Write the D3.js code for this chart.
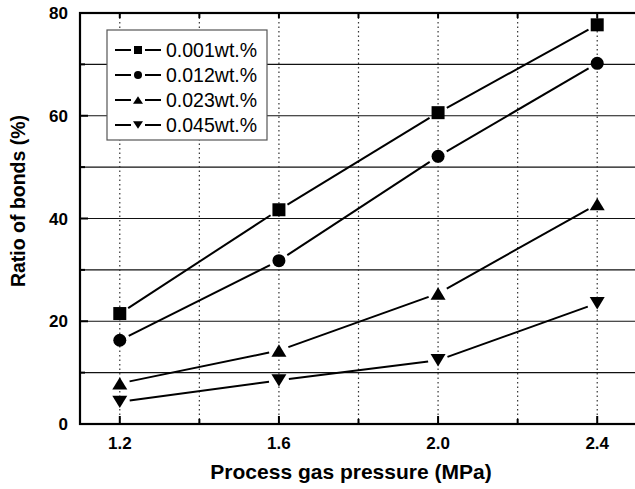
<!DOCTYPE html>
<html>
<head>
<meta charset="utf-8">
<script src="https://cdn.jsdelivr.net/npm/d3@7"></script>
<style>
  html, body { margin: 0; padding: 0; background: #fff; }
  svg { display: block; font-family: "Liberation Sans", Arial, sans-serif; }
</style>
</head>
<body>
<div id="chart"></div>
<script>
// Data
const pressures = [1.2, 1.6, 2.0, 2.4];
const seriesNames = ["0.001wt.%", "0.012wt.%", "0.023wt.%", "0.045wt.%"];
const s001 = [21.5, 41.7, 60.6, 77.7];
const s012 = [16.3, 31.8, 52.1, 70.2];
const s023 = [7.9, 14.3, 25.4, 42.8];
const s045 = [4.3, 8.5, 12.4, 23.5];
const xTicks = [1.2, 1.6, 2.0, 2.4];
const yTicks = [0, 20, 40, 60, 80];

const allSeries = [s001, s012, s023, s045];
const symbols = ["square", "circle", "up", "down"];

const width = 635, height = 489;
const margin = { left: 80, top: 13, right: -2, bottom: 65 };

const svg = d3.select("#chart").append("svg")
  .attr("width", width).attr("height", height);

const x = d3.scaleLinear().domain([1.1, 2.5]).range([margin.left, width - margin.right]);
const y = d3.scaleLinear().domain([0, 80]).range([height - margin.bottom, margin.top]);

const minorX = d3.range(1.2, 2.41, 0.2).map((d) => +d.toFixed(1));
const minorY = d3.range(10, 80, 10);

// grid
svg.append("g").selectAll("line").data(minorY).join("line")
  .attr("x1", x(1.1)).attr("x2", x(2.5))
  .attr("y1", (d) => y(d)).attr("y2", (d) => y(d))
  .attr("stroke", "#111").attr("stroke-width", 1.1);

svg.append("g").selectAll("line").data(minorX).join("line")
  .attr("x1", (d) => x(d)).attr("x2", (d) => x(d))
  .attr("y1", y(0)).attr("y2", y(80))
  .attr("stroke", "#333").attr("stroke-width", 1.2)
  .attr("stroke-dasharray", "1.5,3");

// frame
svg.append("rect")
  .attr("x", x(1.1)).attr("y", y(80))
  .attr("width", x(2.5) - x(1.1)).attr("height", y(0) - y(80))
  .attr("fill", "none").attr("stroke", "#000").attr("stroke-width", 2.2);

// ticks (inward)
const ticks = svg.append("g").attr("stroke", "#000").attr("stroke-width", 2);
minorX.forEach((d) => {
  const major = xTicks.includes(d);
  ticks.append("line").attr("x1", x(d)).attr("x2", x(d))
    .attr("y1", y(0)).attr("y2", y(0) - (major ? 8 : 5));
  ticks.append("line").attr("x1", x(d)).attr("x2", x(d))
    .attr("y1", y(80)).attr("y2", y(80) + 5);
});
d3.range(0, 81, 10).forEach((d) => {
  const major = yTicks.includes(d);
  ticks.append("line").attr("x1", x(1.1)).attr("x2", x(1.1) + (major ? 8 : 5))
    .attr("y1", y(d)).attr("y2", y(d));
});

// tick labels
svg.append("g").selectAll("text").data(xTicks).join("text")
  .attr("x", (d) => x(d)).attr("y", y(0) + 25)
  .attr("text-anchor", "middle")
  .attr("font-size", 17).attr("font-weight", "bold")
  .text((d) => d.toFixed(1));

svg.append("g").selectAll("text").data(yTicks).join("text")
  .attr("x", x(1.1) - 12).attr("y", (d) => y(d) + 6)
  .attr("text-anchor", "end")
  .attr("font-size", 17).attr("font-weight", "bold")
  .text((d) => d);

// axis titles
svg.append("text")
  .attr("x", 351).attr("y", 479)
  .attr("text-anchor", "middle")
  .attr("font-size", 21).attr("font-weight", "bold")
  .text("Process gas pressure (MPa)");

svg.append("text")
  .attr("transform", `translate(25,201) rotate(-90)`)
  .attr("text-anchor", "middle")
  .attr("font-size", 19.5).attr("font-weight", "bold")
  .text("Ratio of bonds (%)");

// marker drawing
function drawMarker(g, kind, cx, cy, s) {
  if (kind === "square") {
    g.append("rect").attr("x", cx - s / 2).attr("y", cy - s / 2)
      .attr("width", s).attr("height", s).attr("fill", "#000");
  } else if (kind === "circle") {
    g.append("circle").attr("cx", cx).attr("cy", cy).attr("r", s / 2).attr("fill", "#000");
  } else if (kind === "up") {
    const h = s * 0.95;
    g.append("path").attr("d", `M${cx},${cy - h / 2}L${cx + s / 2 + 1},${cy + h / 2}L${cx - s / 2 - 1},${cy + h / 2}Z`)
      .attr("fill", "#000");
  } else {
    const h = s * 0.95;
    g.append("path").attr("d", `M${cx},${cy + h / 2}L${cx + s / 2 + 1},${cy - h / 2}L${cx - s / 2 - 1},${cy - h / 2}Z`)
      .attr("fill", "#000");
  }
}

// series lines with gaps around markers
const gap = 10;
allSeries.forEach((vals, i) => {
  const g = svg.append("g");
  const pts = pressures.map((p, j) => [x(p), y(vals[j])]);
  for (let j = 0; j < pts.length - 1; j++) {
    const [x0, y0] = pts[j], [x1, y1] = pts[j + 1];
    const len = Math.hypot(x1 - x0, y1 - y0);
    const ux = (x1 - x0) / len, uy = (y1 - y0) / len;
    g.append("line")
      .attr("x1", x0 + ux * gap).attr("y1", y0 + uy * gap)
      .attr("x2", x1 - ux * gap).attr("y2", y1 - uy * gap)
      .attr("stroke", "#000").attr("stroke-width", 2);
  }
  pts.forEach(([px, py]) => drawMarker(g, symbols[i], px, py, 13));
});

// legend
const legend = svg.append("g");
legend.append("rect")
  .attr("x", 107).attr("y", 30).attr("width", 160).attr("height", 110)
  .attr("fill", "#fff").attr("stroke", "#555").attr("stroke-width", 1.2);
seriesNames.forEach((name, i) => {
  const ly = 50 + i * 25;
  legend.append("line").attr("x1", 115).attr("x2", 131).attr("y1", ly).attr("y2", ly)
    .attr("stroke", "#000").attr("stroke-width", 2);
  legend.append("line").attr("x1", 145).attr("x2", 161).attr("y1", ly).attr("y2", ly)
    .attr("stroke", "#000").attr("stroke-width", 2);
  drawMarker(legend, symbols[i], 138, ly, 8);
  legend.append("text")
    .attr("x", 166).attr("y", ly + 7)
    .attr("font-size", 19.5)
    .text(name);
});
</script>
</body>
</html>
